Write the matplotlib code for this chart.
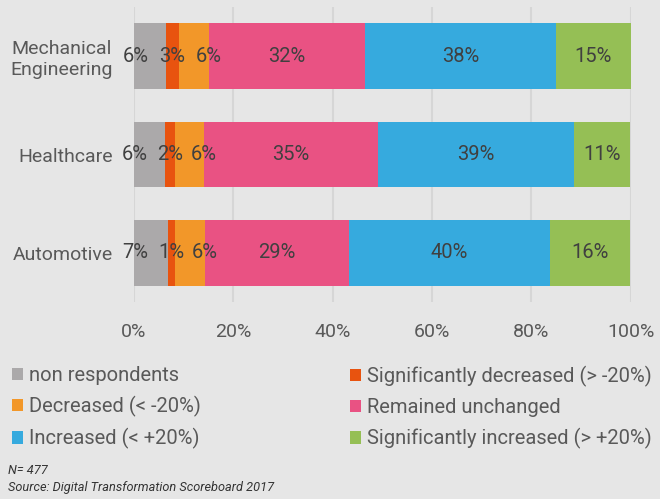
import matplotlib
matplotlib.use("Agg")
import matplotlib.pyplot as plt
from matplotlib.patches import Patch

categories = ["Mechanical\nEngineering", "Healthcare", "Automotive"]
series_names = ["non respondents", "Significantly decreased (> -20%)", "Decreased (< -20%)",
                "Remained unchanged", "Increased (< +20%)", "Significantly increased (> +20%)"]
values = {
    "non respondents":                  [6.4, 6.2, 6.8],
    "Significantly decreased (> -20%)": [2.7, 2.0, 1.4],
    "Decreased (< -20%)":               [5.9, 5.8, 6.0],
    "Remained unchanged":               [31.6, 35.2, 29.1],
    "Increased (< +20%)":               [38.4, 39.3, 40.4],
    "Significantly increased (> +20%)": [15.0, 11.4, 16.2],
}
colors = ["#aba9aa", "#e8530f", "#f29729", "#e95283", "#36aade", "#95bf55"]
# where within each segment its label sits (0 = left edge, 1 = right edge)
label_anchor = [0.04, 0.5, 1.0, 0.5, 0.5, 0.5]
xticks = [0, 20, 40, 60, 80, 100]
xtick_labels = ["0%", "20%", "40%", "60%", "80%", "100%"]

FONT = "Roboto"
BG = "#e6e6e6"
plt.rcParams["font.family"] = [FONT, "DejaVu Sans"]

fig = plt.figure(figsize=(6.6, 4.99), dpi=100, facecolor=BG)
ax = fig.add_axes([134/660, 1-302/499, (630.7-134)/660, (302-7)/499])
ax.set_facecolor(BG)

ypos = list(range(len(categories)))
left = [0.0]*len(categories)
for name, c, anc in zip(series_names, colors, label_anchor):
    vals = values[name]
    ax.barh(ypos, vals, left=left, height=0.67, color=c, edgecolor="none", zorder=3)
    for y, v, l in zip(ypos, vals, left):
        ax.text(l + v*anc, y, f"{round(v)}%", ha="center", va="center",
                fontsize=14.5, color="#404040", zorder=4, clip_on=False)
    left = [a+b for a, b in zip(left, vals)]

ax.set_xlim(0, 100)
ax.set_ylim(2.5, -0.5)
ax.set_xticks(xticks)
ax.set_xticklabels(xtick_labels)
ax.set_yticks(ypos)
ax.set_yticklabels(categories)
for t in ax.get_yticklabels():
    t.set_multialignment("center")
ax.tick_params(axis="x", length=0, labelsize=14, labelcolor="#595959", pad=15)
ax.tick_params(axis="y", length=0, labelsize=14, labelcolor="#595959", pad=15)
ax.grid(axis="x", color="#d6d6d6", linewidth=1.5, zorder=0)
ax.grid(axis="y", visible=False)
for s in ax.spines.values():
    s.set_visible(False)

handles = [Patch(facecolor=c, edgecolor="none") for c in colors]
col1 = [0, 2, 4]
col2 = [1, 3, 5]
common = dict(loc="upper left", frameon=False, borderpad=0, borderaxespad=0,
              handlelength=0.55, handleheight=0.55, handletextpad=0.3,
              labelspacing=0.55, fontsize=14.5, labelcolor="#595959")
fig.legend([handles[i] for i in col1], [series_names[i] for i in col1],
           bbox_to_anchor=(12/660, 1-366/499), **common)
fig.legend([handles[i] for i in col2], [series_names[i] for i in col2],
           bbox_to_anchor=(350/660, 1-366/499), **common)

fig.text(8/660, 1-470/499, "N= 477", fontsize=9.2, style="italic", color="#333333", va="center")
fig.text(8/660, 1-488/499, "Source: Digital Transformation Scoreboard 2017", fontsize=9.2,
         style="italic", color="#333333", va="center")

fig.savefig("out.png", dpi=100, facecolor=BG)
